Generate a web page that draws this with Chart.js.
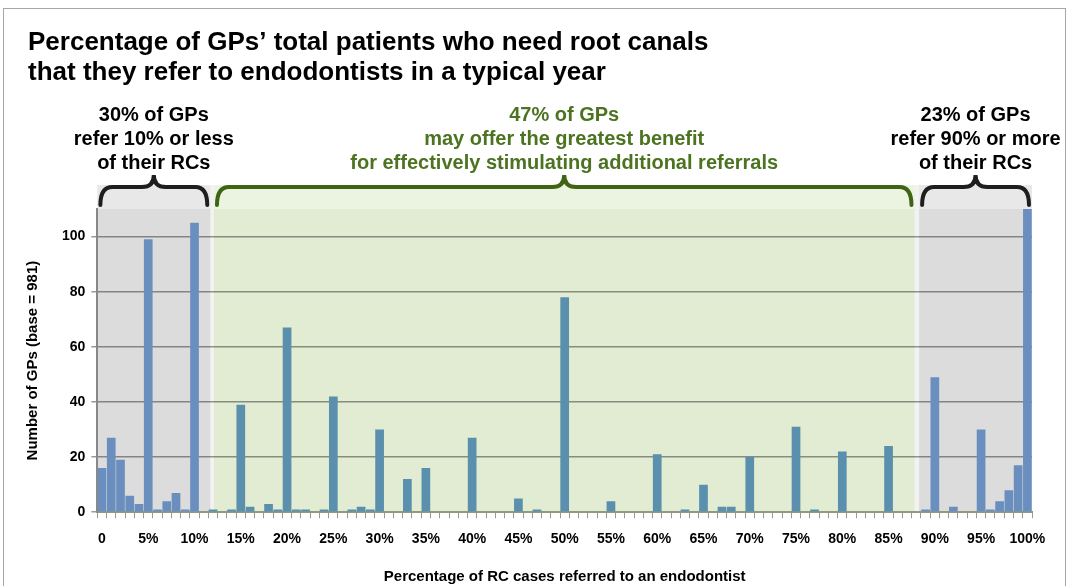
<!DOCTYPE html>
<html>
<head>
<meta charset="utf-8">
<script src="https://cdn.jsdelivr.net/npm/chart.js@4/dist/chart.umd.min.js"></script>
<style>
  body { margin: 0; background: #fff; }
  #wrap { width: 1070px; height: 586px; position: relative; }
</style>
</head>
<body>
<div id="wrap"><canvas id="gp-referral-chart"></canvas></div>
<script>
// share of RC cases referred (0..100 %)
const refPct = Array.from({ length: 101 }, (_, i) => i);
// number of GPs answering each percentage (base = 981)
const gpCounts = [
  16, 27, 19, 6, 3, 99, 1, 4, 7, 1, 105,
  0, 1, 0, 1, 39, 2, 0, 3, 1, 67,
  1, 1, 0, 1, 42, 0, 1, 2, 1, 30,
  0, 0, 12, 0, 16, 0, 0, 0, 0, 27,
  0, 0, 0, 0, 5, 0, 1, 0, 0, 78,
  0, 0, 0, 0, 4, 0, 0, 0, 0, 21,
  0, 0, 1, 0, 10, 0, 2, 2, 0, 20,
  0, 0, 0, 0, 31, 0, 1, 0, 0, 22,
  0, 0, 0, 0, 24, 0, 0, 0, 1, 49,
  0, 2, 0, 0, 30, 1, 4, 8, 17, 110
];
const xTickLabels = ["0", "5%", "10%", "15%", "20%", "25%", "30%", "35%", "40%", "45%", "50%",
  "55%", "60%", "65%", "70%", "75%", "80%", "85%", "90%", "95%", "100%"];

const titleLines = ["Percentage of GPs\u2019 total patients who need root canals",
  "that they refer to endodontists in a typical year"];
const lowText = ["30% of GPs", "refer 10% or less", "of their RCs"];
const midText = ["47% of GPs", "may offer the greatest benefit", "for effectively stimulating additional referrals"];
const highText = ["23% of GPs", "refer 90% or more", "of their RCs"];

// group spans in category units
const groups = [
  { from: -0.5, to: 11.7, fill: "#dcdcdc", top: "#e8e8e8", brace: "#1e1e1e", text: lowText, color: "#000" },
  { from: 12.1, to: 87.8, fill: "#e1ecd3", top: "#ebf3e1", brace: "#3f6414", text: midText, color: "#4b7320" },
  { from: 88.3, to: 100.5, fill: "#dcdcdc", top: "#e8e8e8", brace: "#1e1e1e", text: highText, color: "#000" }
];

const FONT = "'Liberation Sans', Arial, sans-serif";

function catPx(x, v) {
  const a = x.getPixelForValue(0), b = x.getPixelForValue(1);
  return a + v * (b - a);
}

function brace(ctx, x1, x2, yb, yl, yt, color) {
  const xm = (x1 + x2) / 2, r = 12;
  ctx.save();
  ctx.strokeStyle = color;
  ctx.lineWidth = 4;
  ctx.lineCap = "round";
  ctx.beginPath();
  ctx.moveTo(x1, yb);
  ctx.quadraticCurveTo(x1, yl, x1 + r, yl);
  ctx.lineTo(xm - r, yl);
  ctx.quadraticCurveTo(xm, yl, xm, yt);
  ctx.quadraticCurveTo(xm, yl, xm + r, yl);
  ctx.lineTo(x2 - r, yl);
  ctx.quadraticCurveTo(x2, yl, x2, yb);
  ctx.stroke();
  ctx.restore();
}

const decor = {
  id: "decor",
  beforeDraw(chart) {
    const { ctx, chartArea, scales } = chart;
    const x = scales.x;
    ctx.save();
    ctx.fillStyle = "#fff";
    ctx.fillRect(0, 0, chart.width, chart.height);
    // frame
    ctx.strokeStyle = "#a6a6a6";
    ctx.lineWidth = 1;
    ctx.strokeRect(3.5, 8.5, 1062, 620);
    // gap colour between boxes
    ctx.fillStyle = "#f2f2f2";
    ctx.fillRect(chartArea.left, chartArea.top - 24, chartArea.right - chartArea.left, chartArea.bottom - chartArea.top + 24);
    groups.forEach(g => {
      const l = Math.max(catPx(x, g.from), chartArea.left);
      const r = Math.min(catPx(x, g.to), chartArea.right);
      ctx.fillStyle = g.top;
      ctx.fillRect(l, chartArea.top - 24, r - l, 24);
      ctx.fillStyle = g.fill;
      ctx.fillRect(l, chartArea.top, r - l, chartArea.bottom - chartArea.top);
    });
    // title
    ctx.fillStyle = "#000";
    ctx.font = "bold 26px " + FONT;
    ctx.textAlign = "left";
    ctx.textBaseline = "middle";
    titleLines.forEach((t, i) => ctx.fillText(t, 28, 43 + i * 30));
    ctx.restore();
  },
  afterDraw(chart) {
    const { ctx, chartArea, scales } = chart;
    const x = scales.x;
    groups.forEach(g => {
      const l = Math.max(catPx(x, g.from), chartArea.left);
      const r = Math.min(catPx(x, g.to), chartArea.right);
      brace(ctx, l + 3, r - 3, chartArea.top - 4, chartArea.top - 22, chartArea.top - 34, g.brace);
      ctx.save();
      ctx.fillStyle = g.color;
      ctx.font = "bold 20px " + FONT;
      ctx.textAlign = "center";
      ctx.textBaseline = "middle";
      g.text.forEach((t, i) => ctx.fillText(t, (l + r) / 2, 115 + i * 24));
      ctx.restore();
    });
  }
};

const barColors = refPct.map(p => (p > 11 && p < 89) ? "#5a8fae" : "#6a8fbf");

new Chart(document.getElementById("gp-referral-chart"), {
  type: "bar",
  data: {
    labels: refPct,
    datasets: [{
      data: gpCounts,
      backgroundColor: barColors,
      barPercentage: 0.94,
      categoryPercentage: 1
    }]
  },
  options: {
    responsive: true,
    maintainAspectRatio: false,
    animation: false,
    layout: { padding: { left: 24, right: 38, top: 209, bottom: 0 } },
    plugins: {
      legend: { display: false },
      tooltip: { enabled: false }
    },
    scales: {
      x: {
        grid: { drawOnChartArea: false, drawTicks: true, tickLength: 6, color: "#999" },
        border: { color: "#8f9a80", width: 2 },
        ticks: {
          autoSkip: false,
          maxRotation: 0,
          padding: 13,
          color: "#000",
          font: { family: FONT, size: 14, weight: "bold" },
          callback: (v, i) => i % 5 === 0 ? xTickLabels[i / 5] : ""
        },
        title: {
          display: true,
          text: "Percentage of RC cases referred to an endodontist",
          color: "#000",
          font: { family: FONT, size: 15, weight: "bold" },
          padding: { top: 7, bottom: 0 }
        }
      },
      y: {
        min: 0,
        max: 110,
        grid: { color: "rgba(0,0,0,0.4)", lineWidth: 1.5, tickLength: 6 },
        border: { color: "#888", width: 2 },
        ticks: {
          stepSize: 20,
          padding: 6,
          color: "#000",
          font: { family: FONT, size: 14, weight: "bold" },
          callback: v => v % 20 === 0 ? v : null
        },
        title: {
          display: true,
          text: "Number of GPs (base = 981)",
          color: "#000",
          font: { family: FONT, size: 15, weight: "bold" },
          padding: { top: 0, bottom: 14 }
        }
      }
    }
  },
  plugins: [decor]
});
</script>
</body>
</html>
